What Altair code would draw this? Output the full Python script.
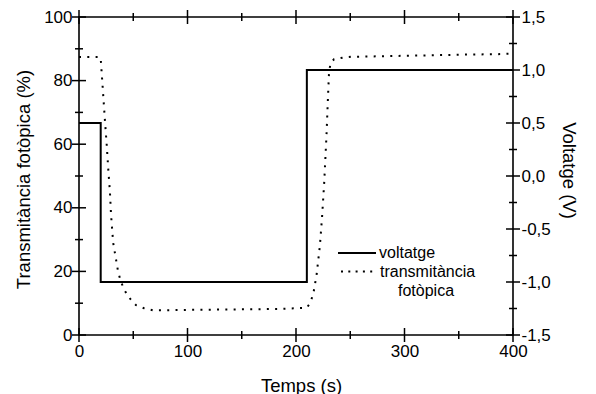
import altair as alt
import pandas as pd

# ---- data ----
t_trans = [0, 5, 10, 15, 19, 20, 21, 22, 23, 24, 25.5, 27, 28.5, 29.5, 31.5, 34, 36, 38, 41,
           45.5, 52.5, 60, 68, 80, 100, 130, 160, 183, 200, 210, 213, 216, 219, 222, 224,
           226, 228, 229.5, 230.5, 232, 235, 243, 251, 270, 300, 330, 360, 386, 400]
trans = [87.4, 87.4, 87.4, 87.4, 87.4, 87, 82, 77, 72, 67, 60, 52, 45, 38, 29, 24, 20, 17.5, 14.7,
         12, 9.4, 8.4, 7.8, 7.8, 7.9, 8.0, 8.1, 8.2, 8.4, 8.6, 10, 13, 19, 28, 37,
         48, 62, 75, 83, 85.5, 86.7, 87.2, 87.5, 87.6, 87.8, 88.0, 88.2, 88.3, 88.5]

t_volt = [0, 20, 210, 400]
volt = [0.5, -1.0, 1.0, 1.0]

x_major = [0, 100, 200, 300, 400]
x_minor = [50, 150, 250, 350]
yl_major = [0, 20, 40, 60, 80, 100]
yl_minor = [10, 30, 50, 70, 90]
yr_major = [-1.5, -1.0, -0.5, 0.0, 0.5, 1.0, 1.5]
yr_minor = [-1.25, -0.75, -0.25, 0.25, 0.75, 1.25]

labels_legend = ["voltatge", "transmitància", "fotòpica"]

FONT = "Liberation Sans"
W, H = 434, 318
XDOM = [0, 400]
YL = [0, 100]
YR = [-1.5, 1.5]
MAJ, MIN = 7, 4

df_t = pd.DataFrame({"t": t_trans, "T": trans})
df_v = pd.DataFrame({"t": t_volt, "V": volt})

xs = alt.Scale(domain=XDOM, nice=False, zero=False)
yls = alt.Scale(domain=YL, nice=False, zero=False)
yrs = alt.Scale(domain=YR, nice=False, zero=False)

TXT = dict(labelFont=FONT, labelColor="black", titleFont=FONT, titleFontSize=18.5,
           titleFontWeight="normal", titleColor="black", labelFlush=False,
           domain=False, grid=False)

trans_line = alt.Chart(df_t).mark_line(
    color="black", strokeWidth=2, strokeDash=[2, 6.3]
).encode(
    x=alt.X("t:Q", scale=xs, axis=alt.Axis(
        title="Temps (s)", orient="bottom", values=x_major, ticks=False,
        labelFontSize=17, labelPadding=8,
        titleX=W / 2 + 5, titleY=50, titleBaseline="middle", **TXT)),
    y=alt.Y("T:Q", scale=yls, axis=alt.Axis(
        title="Transmitància fotòpica (%)", orient="left", values=yl_major, ticks=False,
        labelFontSize=17, labelPadding=7,
        titleX=-56, titleY=H / 2 + 3, titleAngle=270, titleAlign="center",
        titleBaseline="middle", **TXT)),
)

volt_line = alt.Chart(df_v).mark_line(
    color="black", strokeWidth=2, interpolate="step-after"
).encode(
    x=alt.X("t:Q", scale=xs, axis=None),
    y=alt.Y("V:Q", scale=yrs, axis=alt.Axis(
        title="Voltatge (V)", orient="right", values=yr_major, ticks=False,
        labelFontSize=17, labelPadding=8,
        labelExpr="(datum.value < 0 ? '-' : '') + replace(format(abs(datum.value), '.1f'), '.', ',')",
        titleX=55, titleY=H / 2 - 6, titleAngle=90, titleAlign="center",
        titleBaseline="middle", **TXT)),
)


# tick marks drawn with mark_tick on the frame edges
def xticks(vals, length, y_edge):
    d = pd.DataFrame({"v": vals})
    return alt.Chart(d).mark_tick(color="black", thickness=1.5, size=2 * length,
                                  orient="vertical", opacity=1).encode(
        x=alt.X("v:Q", scale=xs, axis=None), y=alt.value(y_edge))


def yticks(vals, length, scale, x_edge):
    d = pd.DataFrame({"v": vals})
    return alt.Chart(d).mark_tick(color="black", thickness=1.5, size=2 * length,
                                  orient="horizontal", opacity=1).encode(
        y=alt.Y("v:Q", scale=scale, axis=None), x=alt.value(x_edge))


one = pd.DataFrame({"a": [0]})

leg_solid = alt.Chart(one).mark_rule(color="black", strokeWidth=2).encode(
    x=alt.value(259), x2=alt.value(297), y=alt.value(236))
leg_dot = alt.Chart(one).mark_rule(color="black", strokeWidth=2, strokeDash=[2, 5.3]).encode(
    x=alt.value(262), x2=alt.value(297), y=alt.value(254.5))
leg_t1 = alt.Chart(one).mark_text(align="left", baseline="middle", fontSize=16, font=FONT,
                                   color="black").encode(
    x=alt.value(300), y=alt.value(236), text=alt.value(labels_legend[0]))
leg_t2 = alt.Chart(one).mark_text(align="left", baseline="middle", fontSize=16, font=FONT,
                                   color="black").encode(
    x=alt.value(301), y=alt.value(254.5), text=alt.value(labels_legend[1]))
leg_t3 = alt.Chart(one).mark_text(align="center", baseline="middle", fontSize=16, font=FONT,
                                   color="black").encode(
    x=alt.value(347), y=alt.value(274), text=alt.value(labels_legend[2]))

chart = alt.layer(
    trans_line, volt_line,
    xticks(x_major, MAJ, H), xticks(x_minor, MIN, H),
    xticks(x_major, MAJ, 0), xticks(x_minor, MIN, 0),
    yticks(yl_major, MAJ, yls, 0), yticks(yl_minor, MIN, yls, 0),
    yticks(yr_major, MAJ, yrs, W), yticks(yr_minor, MIN, yrs, W),
    leg_solid, leg_dot, leg_t1, leg_t2, leg_t3,
).resolve_scale(y="independent").resolve_axis(x="independent", y="independent").properties(
    width=W, height=H,
    autosize=alt.AutoSizeParams(type="none"),
    padding={"left": 79, "top": 17, "right": 83, "bottom": 59},
    background="white",
).configure_view(stroke="black", strokeWidth=1.6)

chart.save("out.html", embed_options={"renderer": "svg", "actions": False})
